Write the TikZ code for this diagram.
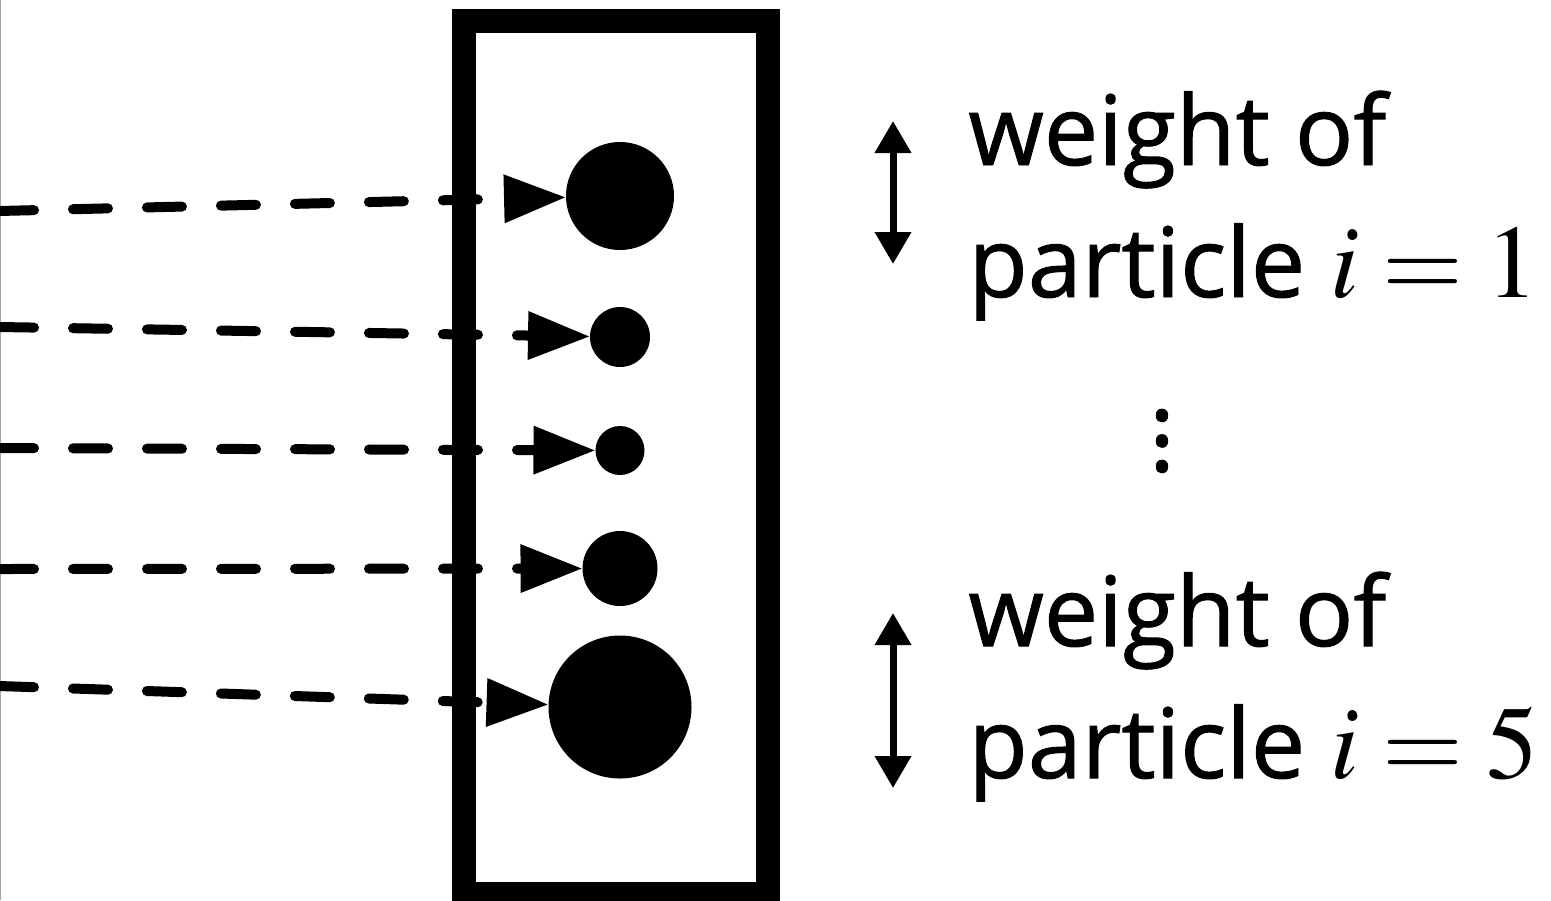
\documentclass[tikz,border=0pt]{standalone}
\usepackage{amsmath}
\usepackage{mathptmx}
\usepackage{fontspec}
\setmainfont{Open Sans}
\newfontfamily\labelfont[FakeBold=1]{Open Sans}
\usetikzlibrary{arrows.meta,positioning}

\begin{document}
\begin{tikzpicture}[x=0.5pt, y=-0.5pt,
    particle/.style={circle, fill=black, inner sep=0pt, outer sep=0pt, minimum size=#1},
    proposal/.style={line width=5pt, line cap=round, dash pattern=on 17.5pt off 19.5pt,
        -{Triangle[length=31pt, width=23pt]}},
    weightarrow/.style={line width=3.5pt, {Triangle[length=16pt, width=17.5pt]}-{Triangle[length=16pt, width=17.5pt]}},
    weightlabel/.style={inner sep=0pt, align=left, font=\labelfont\fontsize{48.5}{66}\selectfont}]
    \useasboundingbox (0,0) rectangle (1551,900);
    \draw[gray!70, line width=0.6pt] (0.6,0) -- (0.6,900);

    % 粒子所在的方框
    \draw[line width=12pt] (464,21) rectangle (768,894);

    % 粒子及其权重(圆的大小)
    \foreach \n/\ys/\yc/\d in {1/211/196/54pt, 2/327/337/30pt, 3/448/450.5/24.5pt, 4/569/568.5/37.5pt, 5/686/707/71.5pt} {
        \coordinate (s\n) at (-1,\ys);
        \node[particle=\d] (p\n) at (620,\yc) {};
        \draw[proposal] (s\n) -- (p\n);
    }

    % 权重标注(base 锚点在第二行)
    \coordinate (a1top) at (893,121);
    \coordinate (a1bot) at (893,264);
    \draw[weightarrow] (a1top) -- (a1bot);
    \node[weightlabel, anchor=base west] (w1) at (968,297) {weight of\\particle {\fontsize{52}{66}\selectfont$i=1$}};

    \node[inner sep=0pt, align=center, font=\labelfont\fontsize{48}{12.75}\selectfont] (dots) at (1162,441) {.\\.\\.};

    \coordinate (a5top) at (893,613);
    \coordinate (a5bot) at (893,788);
    \draw[weightarrow] (a5top) -- (a5bot);
    \node[weightlabel, anchor=base west] (w5) at (968,778) {weight of\\particle {\fontsize{52}{66}\selectfont$i=5$}};
\end{tikzpicture}
\end{document}
